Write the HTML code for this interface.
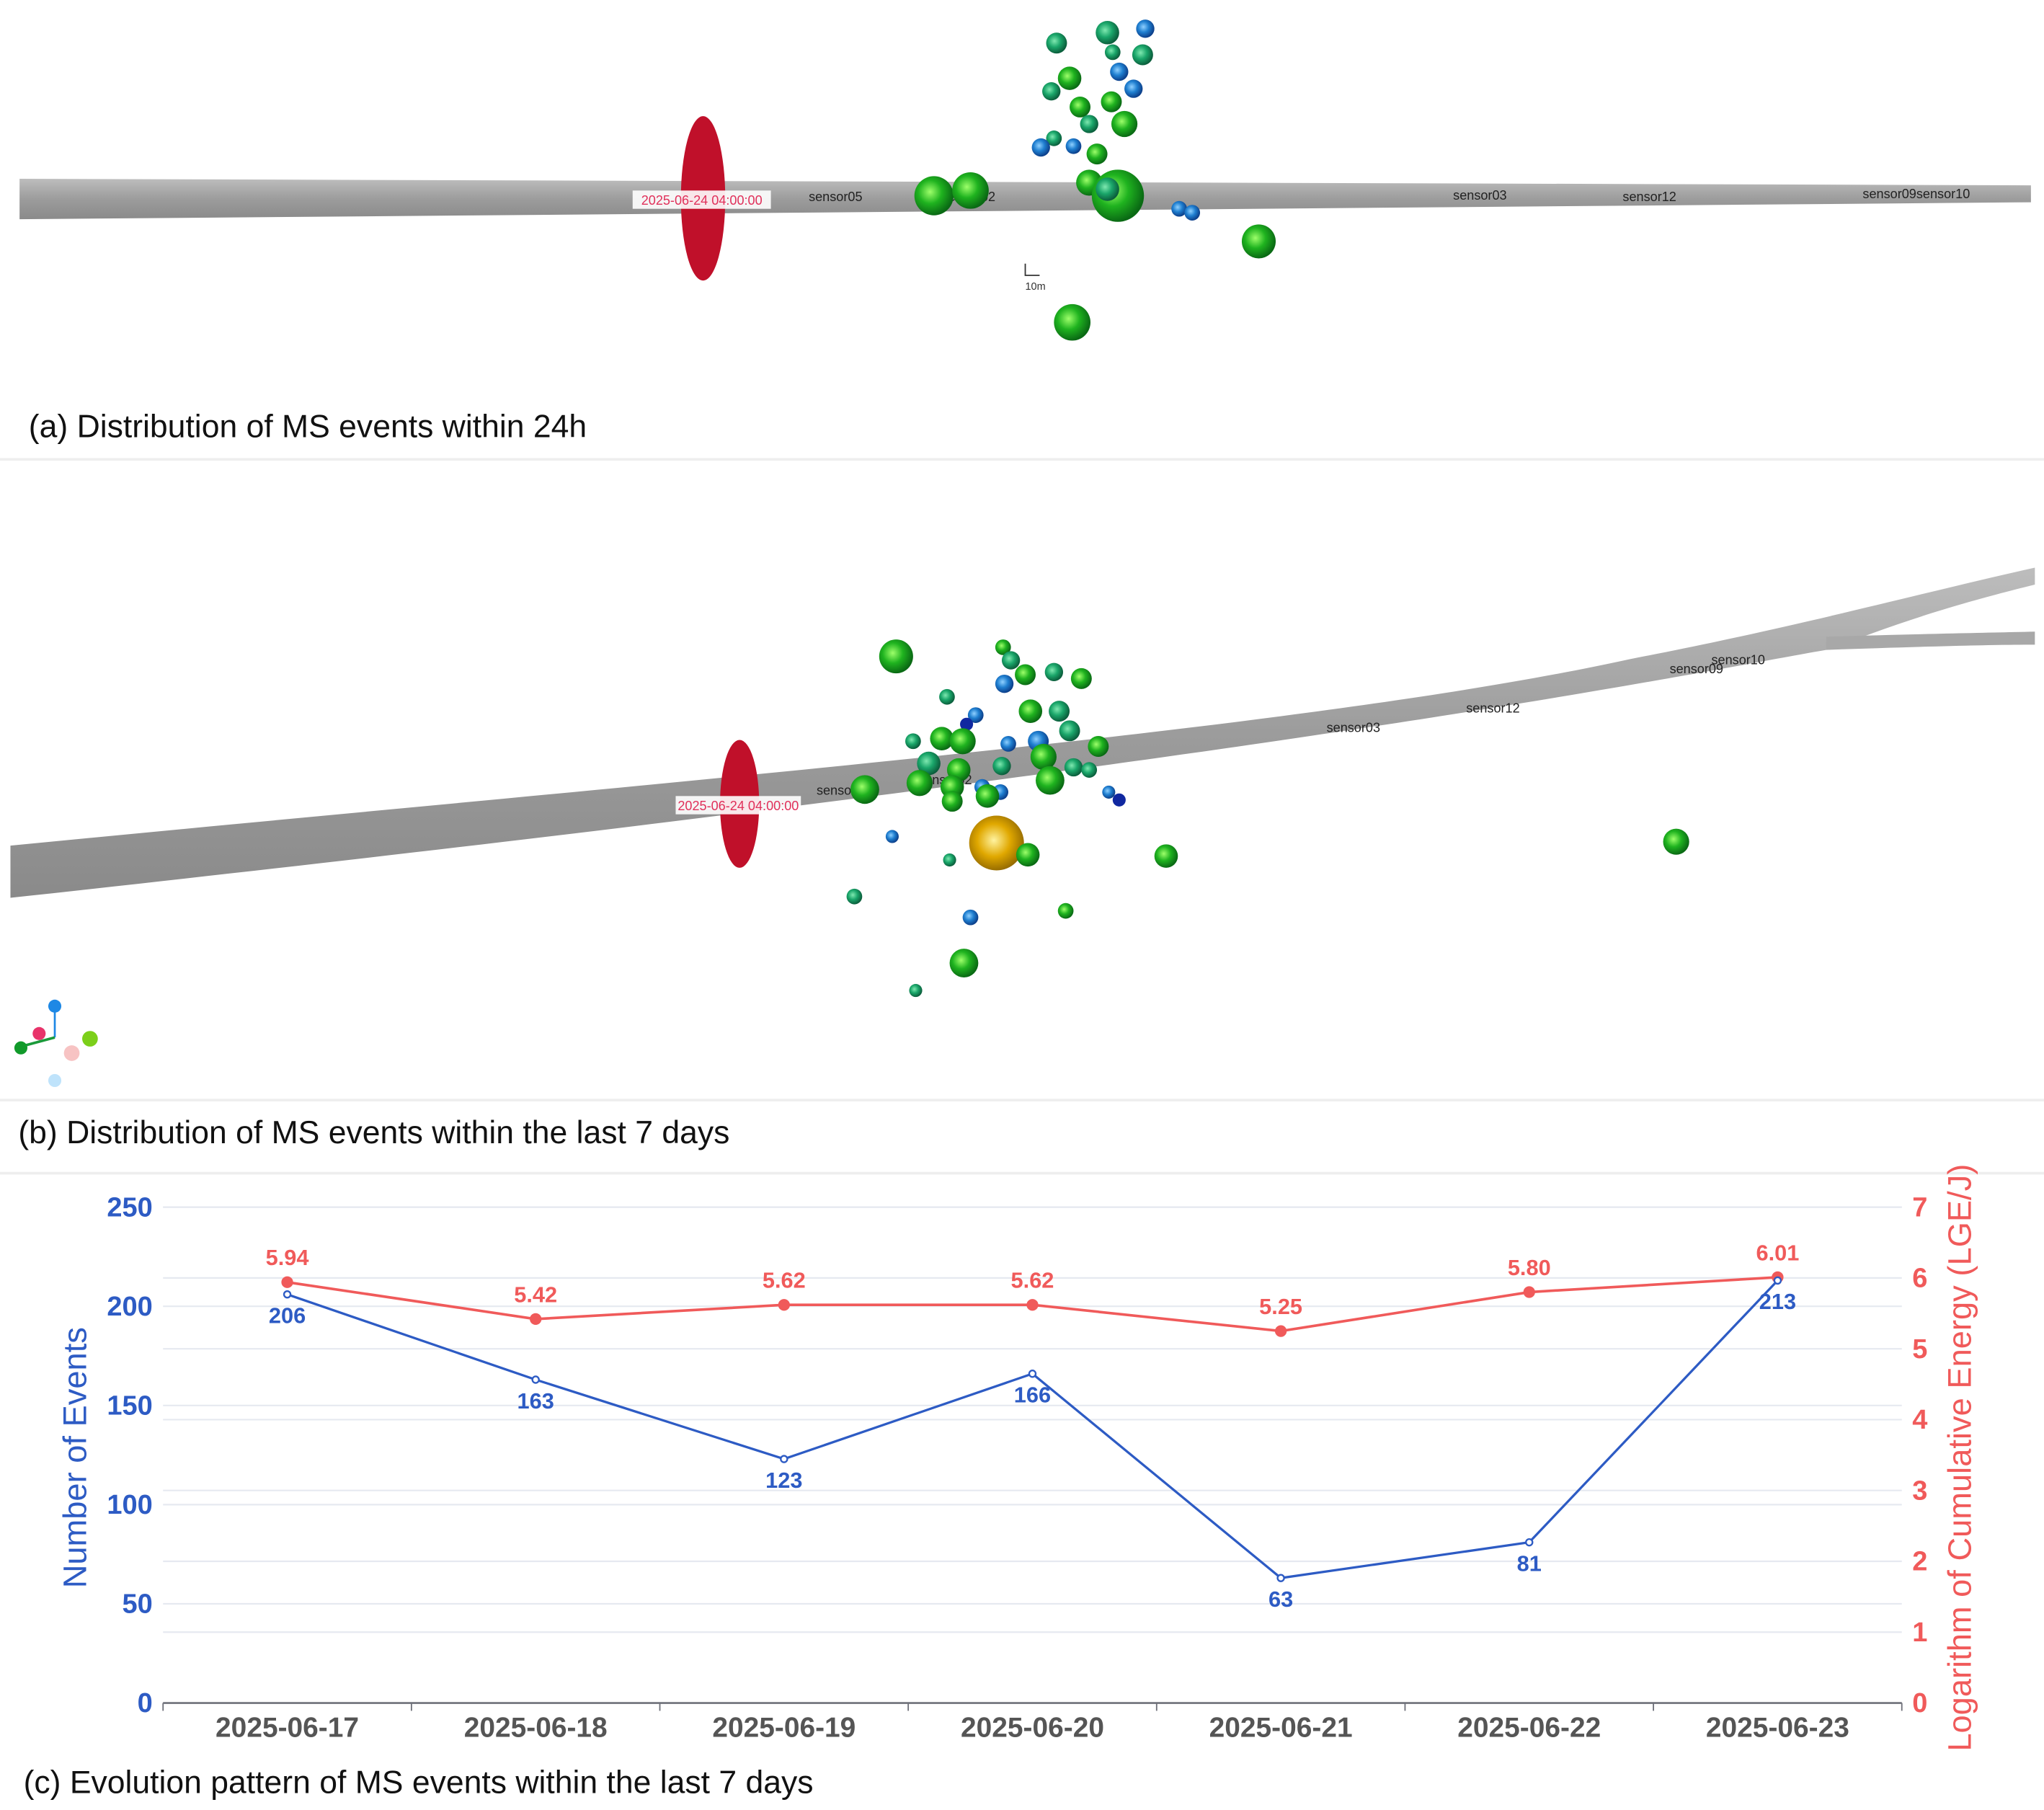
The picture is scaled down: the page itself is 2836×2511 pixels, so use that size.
<!DOCTYPE html>
<html><head><meta charset="utf-8"><style>
html,body{margin:0;padding:0;background:#fff}
svg{display:block}
text{font-family:"Liberation Sans",sans-serif}
</style></head><body>
<svg id="fig" width="2836" height="2511" viewBox="0 0 1567 1387" preserveAspectRatio="none" xmlns="http://www.w3.org/2000/svg">
<defs>
<radialGradient id="gg" cx="0.4" cy="0.4" r="0.6"><stop offset="0" stop-color="#9dff6a"/><stop offset="0.5" stop-color="#1fb31f"/><stop offset="1" stop-color="#0a6a14"/></radialGradient>
<radialGradient id="gt" cx="0.4" cy="0.4" r="0.6"><stop offset="0" stop-color="#7fe8b0"/><stop offset="0.5" stop-color="#1aa66a"/><stop offset="1" stop-color="#0b5e3c"/></radialGradient>
<radialGradient id="gb" cx="0.4" cy="0.4" r="0.6"><stop offset="0" stop-color="#8fd0ff"/><stop offset="0.5" stop-color="#1f7fd0"/><stop offset="1" stop-color="#0c3f8a"/></radialGradient>
<radialGradient id="gy" cx="0.45" cy="0.45" r="0.6"><stop offset="0" stop-color="#fff3a0"/><stop offset="0.5" stop-color="#e0a800"/><stop offset="1" stop-color="#8a6200"/></radialGradient>
<linearGradient id="tube" x1="0" y1="0" x2="0" y2="1"><stop offset="0" stop-color="#bdbdbd"/><stop offset="0.5" stop-color="#9c9c9c"/><stop offset="1" stop-color="#8a8a8a"/></linearGradient>
</defs>

<g>
<polygon points="15,137 1557,142 1557,155 15,168" fill="url(#tube)"/>
<ellipse cx="539" cy="152" rx="17" ry="63" fill="#c0102a"/>
<rect x="485" y="146" width="106" height="14" fill="#fff" opacity="0.9"/>
<text x="538" y="157" font-size="10" fill="#e0305a" text-anchor="middle">2025-06-24 04:00:00</text>
<g font-size="10" fill="#222">
<text x="620" y="154">sensor05</text><text x="722" y="154">sensor02</text><text x="1114" y="153">sensor03</text><text x="1244" y="154">sensor12</text><text x="1428" y="152">sensor09sensor10</text>
</g>
<g>
<circle cx="810" cy="33" r="8" fill="url(#gt)"/><circle cx="849" cy="25" r="9" fill="url(#gt)"/><circle cx="878" cy="22" r="7" fill="url(#gb)"/><circle cx="876" cy="42" r="8" fill="url(#gt)"/><circle cx="853" cy="40" r="6" fill="url(#gt)"/><circle cx="858" cy="55" r="7" fill="url(#gb)"/><circle cx="820" cy="60" r="9" fill="url(#gg)"/><circle cx="806" cy="70" r="7" fill="url(#gt)"/><circle cx="852" cy="78" r="8" fill="url(#gg)"/><circle cx="869" cy="68" r="7" fill="url(#gb)"/><circle cx="828" cy="82" r="8" fill="url(#gg)"/><circle cx="862" cy="95" r="10" fill="url(#gg)"/><circle cx="835" cy="95" r="7" fill="url(#gt)"/><circle cx="808" cy="106" r="6" fill="url(#gt)"/><circle cx="798" cy="113" r="7" fill="url(#gb)"/><circle cx="823" cy="112" r="6" fill="url(#gb)"/><circle cx="841" cy="118" r="8" fill="url(#gg)"/><circle cx="835" cy="140" r="10" fill="url(#gg)"/><circle cx="857" cy="150" r="20" fill="url(#gg)"/><circle cx="849" cy="145" r="9" fill="url(#gt)"/><circle cx="716" cy="150" r="15" fill="url(#gg)"/><circle cx="744" cy="146" r="14" fill="url(#gg)"/><circle cx="904" cy="160" r="6" fill="url(#gb)"/><circle cx="914" cy="163" r="6" fill="url(#gb)"/><circle cx="965" cy="185" r="13" fill="url(#gg)"/><circle cx="822" cy="247" r="14" fill="url(#gg)"/>
</g>
<path d="M786,202 L786,211 L797,211" stroke="#333" fill="none" stroke-width="1"/>
<text x="786" y="222" font-size="8" fill="#333">10m</text>
<text x="22" y="335" font-size="24.6" fill="#111">(a) Distribution of MS events within 24h</text>
<line x1="0" y1="352" x2="1567" y2="352" stroke="#eee" stroke-width="2"/>
</g>

<g>
<path d="M8,648 C500,600 1000,560 1250,505 C1380,480 1470,455 1560,435 L1560,448 C1470,470 1430,488 1400,498 C1300,515 1000,580 8,688 Z" fill="url(#tube)"/>
<path d="M1400,488 C1460,486 1520,485 1560,484 L1560,494 C1520,494 1460,496 1400,498 Z" fill="#a8a8a8"/>
<ellipse cx="567" cy="616" rx="15" ry="49" fill="#c0102a"/>
<rect x="518" y="610" width="96" height="14" fill="#fff" opacity="0.9"/>
<text x="566" y="621" font-size="10" fill="#e0305a" text-anchor="middle">2025-06-24 04:00:00</text>
<g font-size="10" fill="#222">
<text x="626" y="609">sensor05</text><text x="704" y="601">sensor02</text><text x="1017" y="561">sensor03</text><text x="1124" y="546">sensor12</text><text x="1280" y="516">sensor09</text><text x="1312" y="509">sensor10</text>
</g>
<g>
<circle cx="687" cy="503" r="13" fill="url(#gg)"/><circle cx="769" cy="496" r="6" fill="url(#gg)"/><circle cx="775" cy="506" r="7" fill="url(#gt)"/><circle cx="770" cy="524" r="7" fill="url(#gb)"/><circle cx="786" cy="517" r="8" fill="url(#gg)"/><circle cx="808" cy="515" r="7" fill="url(#gt)"/><circle cx="829" cy="520" r="8" fill="url(#gg)"/><circle cx="726" cy="534" r="6" fill="url(#gt)"/><circle cx="748" cy="548" r="6" fill="url(#gb)"/><circle cx="790" cy="545" r="9" fill="url(#gg)"/><circle cx="812" cy="545" r="8" fill="url(#gt)"/><circle cx="741" cy="555" r="5" fill="#1028a0"/><circle cx="722" cy="566" r="9" fill="url(#gg)"/><circle cx="738" cy="568" r="10" fill="url(#gg)"/><circle cx="773" cy="570" r="6" fill="url(#gb)"/><circle cx="796" cy="568" r="8" fill="url(#gb)"/><circle cx="820" cy="560" r="8" fill="url(#gt)"/><circle cx="700" cy="568" r="6" fill="url(#gt)"/><circle cx="842" cy="572" r="8" fill="url(#gg)"/><circle cx="712" cy="585" r="9" fill="url(#gt)"/><circle cx="735" cy="590" r="9" fill="url(#gg)"/><circle cx="768" cy="587" r="7" fill="url(#gt)"/><circle cx="800" cy="580" r="10" fill="url(#gg)"/><circle cx="823" cy="588" r="7" fill="url(#gt)"/><circle cx="705" cy="600" r="10" fill="url(#gg)"/><circle cx="730" cy="603" r="9" fill="url(#gg)"/><circle cx="753" cy="603" r="6" fill="url(#gb)"/><circle cx="767" cy="607" r="6" fill="url(#gb)"/><circle cx="805" cy="598" r="11" fill="url(#gg)"/><circle cx="835" cy="590" r="6" fill="url(#gt)"/><circle cx="663" cy="605" r="11" fill="url(#gg)"/><circle cx="730" cy="614" r="8" fill="url(#gg)"/><circle cx="757" cy="610" r="9" fill="url(#gg)"/><circle cx="850" cy="607" r="5" fill="url(#gb)"/><circle cx="858" cy="613" r="5" fill="#1028a0"/><circle cx="684" cy="641" r="5" fill="url(#gb)"/><circle cx="764" cy="646" r="21" fill="url(#gy)"/><circle cx="788" cy="655" r="9" fill="url(#gg)"/><circle cx="728" cy="659" r="5" fill="url(#gt)"/><circle cx="894" cy="656" r="9" fill="url(#gg)"/><circle cx="1285" cy="645" r="10" fill="url(#gg)"/><circle cx="655" cy="687" r="6" fill="url(#gt)"/><circle cx="817" cy="698" r="6" fill="url(#gg)"/><circle cx="744" cy="703" r="6" fill="url(#gb)"/><circle cx="739" cy="738" r="11" fill="url(#gg)"/><circle cx="702" cy="759" r="5" fill="url(#gt)"/>
</g>
<g>
<line x1="42" y1="772" x2="42" y2="795" stroke="#1e88e5" stroke-width="1.5"/><line x1="42" y1="795" x2="16" y2="802" stroke="#1a9a3a" stroke-width="2"/>
<circle cx="42" cy="771" r="5" fill="#1e88e5"/><circle cx="30" cy="792" r="5" fill="#e8336a"/><circle cx="16" cy="803" r="5" fill="#119a2a"/><circle cx="69" cy="796" r="6" fill="#7ccf1a"/><circle cx="55" cy="807" r="6" fill="#f7c3c3"/><circle cx="42" cy="828" r="5" fill="#bfe3fb"/>
</g>
<line x1="0" y1="843" x2="1567" y2="843" stroke="#eee" stroke-width="2"/>
<text x="14" y="876" font-size="24.6" fill="#111">(b) Distribution of MS events within the last 7 days</text>
<line x1="0" y1="899" x2="1567" y2="899" stroke="#eee" stroke-width="2"/>
</g>

<g id="chart"></g>
<text x="18" y="1374" font-size="24.6" fill="#111">(c) Evolution pattern of MS events within the last 7 days</text>
</svg>
<script>
const categories = ['2025-06-17','2025-06-18','2025-06-19','2025-06-20','2025-06-21','2025-06-22','2025-06-23'];
const eventCounts = [206,163,123,166,63,81,213];
const energyLog = [5.94,5.42,5.62,5.62,5.25,5.80,6.01];
const leftTicks = [0,50,100,150,200,250];
const rightTicks = [0,1,2,3,4,5,6,7];

const NS='http://www.w3.org/2000/svg';
const g=document.getElementById('chart');
const X0=125,X1=1458,YB=1305,YT=925;
const band=(X1-X0)/categories.length;
const xPos=i=>X0+band*(i+0.5);
const yL=v=>YB-(v/250)*(YB-YT);
const yR=v=>YB-(v/7)*(YB-YT);
function mk(tag,attrs,parent){const e=document.createElementNS(NS,tag);for(const k in attrs)e.setAttribute(k,attrs[k]);(parent||g).appendChild(e);return e;}

rightTicks.forEach(t=>{if(t>0){const l=mk('line',{x1:X0,x2:X1,y1:yR(t),y2:yR(t),stroke:'#e6e9f0','stroke-width':1.2});

}
const tx=mk('text',{x:1466,y:yR(t)+7,'font-size':21,fill:'#f05a5a','font-weight':'bold'});tx.textContent=t;

});
leftTicks.forEach(t=>{if(t>0){const l=mk('line',{x1:X0,x2:X1,y1:yL(t),y2:yL(t),stroke:'#e6e9f0','stroke-width':1.2});

}
const tx=mk('text',{x:117,y:yL(t)+7,'font-size':21,fill:'#2d5bc4','font-weight':'bold','text-anchor':'end'});tx.textContent=t;

});
const ax=mk('line',{x1:X0,x2:X1,y1:YB,y2:YB,stroke:'#6e7079','stroke-width':1.5});


for(let i=0;i<=categories.length;i++){const tk=mk('line',{x1:X0+band*i,x2:X0+band*i,y1:YB,y2:YB+6,stroke:'#6e7079'});

}
categories.forEach((c,i)=>{const t=mk('text',{x:xPos(i),y:1331,'font-size':21.5,fill:'#555','font-weight':'bold','text-anchor':'middle'});t.textContent=c;

});

const lt=mk('text',{x:0,y:0,'font-size':25,fill:'#2d5bc4','text-anchor':'middle',transform:'translate(66,1117) rotate(-90)'});lt.textContent='Number of Events';


const rt=mk('text',{x:0,y:0,'font-size':25,fill:'#f05a5a','text-anchor':'middle',transform:'translate(1511,1117) rotate(-90)'});rt.textContent='Logarithm of Cumulative Energy (LGE/J)';



const pe=mk('polyline',{points:energyLog.map((v,i)=>xPos(i)+','+yR(v)).join(' '),fill:'none',stroke:'#f05a5a','stroke-width':2});


const pc=mk('polyline',{points:eventCounts.map((v,i)=>xPos(i)+','+yL(v)).join(' '),fill:'none',stroke:'#2d5bc4','stroke-width':1.8});


energyLog.forEach((v,i)=>{const c=mk('circle',{cx:xPos(i),cy:yR(v),r:4.5,fill:'#f05a5a'});


const t=mk('text',{x:xPos(i),y:yR(v)-13,'font-size':17,fill:'#f05a5a','font-weight':'bold','text-anchor':'middle'});t.textContent=v.toFixed(2);

});
eventCounts.forEach((v,i)=>{const c=mk('circle',{cx:xPos(i),cy:yL(v),r:2.5,fill:'#fff',stroke:'#2d5bc4','stroke-width':1.3});


const t=mk('text',{x:xPos(i),y:yL(v)+22,'font-size':17,fill:'#2d5bc4','font-weight':'bold','text-anchor':'middle'});t.textContent=v;

});
</script>
</body></html>
